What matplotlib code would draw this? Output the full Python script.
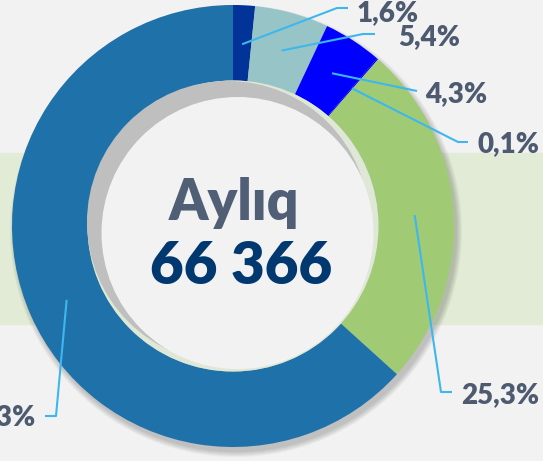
import numpy as np
import matplotlib.pyplot as plt
from matplotlib.patches import Circle, Rectangle

# data
labels = ['1,6%', '5,4%', '4,3%', '0,1%', '25,3%', '63,3%']
shares = [1.6, 5.4, 4.3, 0.1, 25.3, 63.3]
colors = ['#023399', '#97c5c7', '#0000fe', '#0000fe', '#a0cb74', '#1f71aa']
title = 'Aylıq'
total = '66 366'

# callout layout in pixels (y down): elbow, line end, text baseline
elbows = [(337, 8), (363, 34), (417, 91), (458, 142), (441, 392), (56, 416)]
ends = [(348, 8), (375, 34), (417, 91), (468, 142), (452, 392), (45, 416)]
text_pos = [(357, 21), (398, 45), (425, 102), (477, 152), (461, 403), (35, 425)]
text_ha = ['left', 'left', 'left', 'left', 'left', 'right']

plt.rcParams['font.family'] = ['Lato', 'DejaVu Sans']

W, H = 543, 461
cx, cy = 233, 226
r_out, r_in = 221, 145.5

fig = plt.figure(figsize=(W / 100, H / 100), dpi=100)
fig.patch.set_facecolor('#f2f2f2')
ax = fig.add_axes([0, 0, 1, 1])

# green band behind the ring
ax.add_patch(Rectangle((0, 153), W, 171, color='#e1ebd5', zorder=0))

# soft shadow of the ring
for k in range(6):
    ax.add_patch(Circle((cx + 3, cy + 5), r_out + k, color='black', alpha=0.035, lw=0, zorder=1))

# y axis is inverted, so counterclock in data turns clockwise on screen
wedges, _ = ax.pie(shares, colors=colors, startangle=-90, counterclock=True,
                   radius=r_out, center=(cx, cy), frame=True,
                   wedgeprops=dict(width=r_out - r_in, edgecolor='none', linewidth=0))
for w in wedges:
    w.set_zorder(2)

# inner disc with its shading
ax.add_patch(Circle((cx, cy), r_in, color='#dfe8d6', lw=0, zorder=3))
ax.add_patch(Circle((cx - 5, cy - 4), r_in - 4.5, color='#bfbfbf', lw=0, zorder=3))
ax.add_patch(Circle((cx + 4.5, cy + 7), 136, color='#f2f2f2', lw=0, zorder=3))

ax.text(234, 220, title, ha='center', va='baseline', fontsize=40,
        fontweight='heavy', color='#505f75', zorder=5)
ax.text(241, 284, total, ha='center', va='baseline', fontsize=42,
        fontweight='heavy', color='#00386f', zorder=5)

# callouts
cum = np.cumsum([0] + shares[:-1])
for i, lab in enumerate(labels):
    ang = np.deg2rad(-90 + (cum[i] + shares[i] / 2) * 3.6)
    ax_x = cx + 182 * np.cos(ang)
    ax_y = cy + 182 * np.sin(ang)
    xs = [ax_x, elbows[i][0], ends[i][0]]
    ys = [ax_y, elbows[i][1], ends[i][1]]
    ax.plot(xs, ys, color='#3db7ee', lw=1.5, zorder=6, solid_capstyle='butt')
    ax.text(text_pos[i][0], text_pos[i][1], lab, ha=text_ha[i], va='baseline',
            fontsize=20, fontweight='heavy', color='#4d5a6f', zorder=6)

ax.set_xlim(0, W)
ax.set_ylim(H, 0)
ax.set_aspect('equal')
ax.axis('off')

fig.savefig('out.png', dpi=100, facecolor=fig.get_facecolor())
